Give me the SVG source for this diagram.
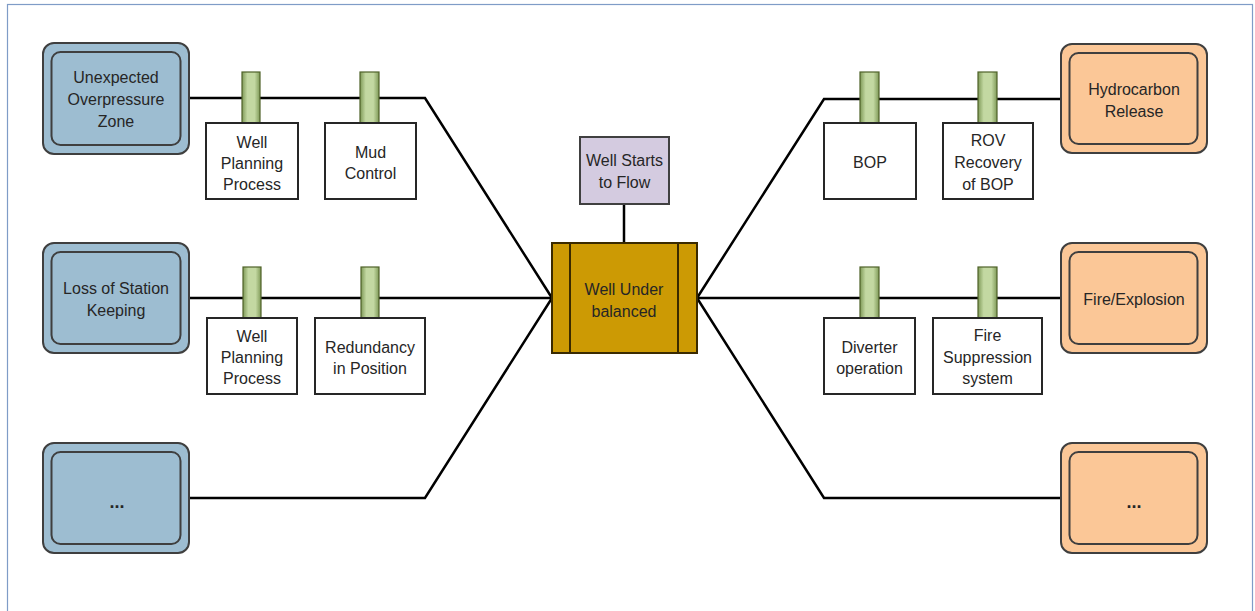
<svg xmlns="http://www.w3.org/2000/svg" width="1255" height="611" viewBox="0 0 1255 611">
  <defs>
    <linearGradient id="tabFill" x1="0" y1="0" x2="1" y2="0">
      <stop offset="0" stop-color="#7f9a58"/>
      <stop offset="0.3" stop-color="#c3d8a2"/>
      <stop offset="0.7" stop-color="#c3d8a2"/>
      <stop offset="1" stop-color="#7f9a58"/>
    </linearGradient>
  </defs>
  <style>
    text { font-family: "Liberation Sans", Arial, sans-serif; font-size: 16px; fill: #262626; text-anchor: middle; }
    .frame { fill: none; stroke: #7f9cc7; stroke-width: 1.2; }
    .wire { fill: none; stroke: #000; stroke-width: 2.5; stroke-linejoin: miter; }
    .outer { stroke: #3f3f3f; stroke-width: 2; }
    .inner { fill: none; stroke: #3f3f3f; stroke-width: 2; }
    .threat .outer { fill: #9dbdd1; }
    .conseq .outer { fill: #fbc797; }
    .barrier { fill: #fff; stroke: #262626; stroke-width: 2; }
    .tab { fill: url(#tabFill); stroke: #4f6228; stroke-width: 1.2; }
    .dots { font-weight: bold; font-size: 18px; }
  </style>

  <rect class="frame" x="7.5" y="4.5" width="1245" height="640"/>

  <!-- connectors -->
  <g id="connectors">
    <polyline class="wire" points="189,98 425,98 552,298"/>
    <polyline class="wire" points="189,298 552,298"/>
    <polyline class="wire" points="189,498 425,498 552,298"/>
    <polyline class="wire" points="1061,99 824,99 697,298"/>
    <polyline class="wire" points="1061,298 697,298"/>
    <polyline class="wire" points="1061,498 824,498 697,298"/>
    <line class="wire" x1="624" y1="204" x2="624" y2="243"/>
  </g>

  <!-- threats -->
  <g id="threat-overpressure" class="threat">
    <rect class="outer" x="43" y="43" width="146" height="111" rx="11"/>
    <rect class="inner" x="51.5" y="52" width="129" height="93" rx="9"/>
    <text x="116" y="82.5">Unexpected</text>
    <text x="116" y="104.5">Overpressure</text>
    <text x="116" y="126.5">Zone</text>
  </g>
  <g id="threat-station-keeping" class="threat">
    <rect class="outer" x="43" y="243" width="146" height="110" rx="11"/>
    <rect class="inner" x="51.5" y="252" width="129" height="92" rx="9"/>
    <text x="116" y="293.5">Loss of Station</text>
    <text x="116" y="315.5">Keeping</text>
  </g>
  <g id="threat-other" class="threat">
    <rect class="outer" x="43" y="443" width="146" height="110" rx="11"/>
    <rect class="inner" x="51.5" y="452" width="129" height="92" rx="9"/>
    <text class="dots" x="117" y="508">...</text>
  </g>

  <!-- consequences -->
  <g id="conseq-hydrocarbon" class="conseq">
    <rect class="outer" x="1061" y="44" width="146" height="109" rx="11"/>
    <rect class="inner" x="1069.5" y="53" width="128" height="91" rx="9"/>
    <text x="1134" y="94.5">Hydrocarbon</text>
    <text x="1134" y="116.5">Release</text>
  </g>
  <g id="conseq-fire" class="conseq">
    <rect class="outer" x="1061" y="243" width="146" height="110" rx="11"/>
    <rect class="inner" x="1069.5" y="252" width="128" height="92" rx="9"/>
    <text x="1134" y="304.5">Fire/Explosion</text>
  </g>
  <g id="conseq-other" class="conseq">
    <rect class="outer" x="1061" y="443" width="146" height="110" rx="11"/>
    <rect class="inner" x="1069.5" y="452" width="128" height="92" rx="9"/>
    <text class="dots" x="1134" y="508">...</text>
  </g>

  <!-- top event and hazard -->
  <g id="hazard">
    <rect x="580" y="137" width="89" height="67" fill="#d4cbe0" stroke="#404040" stroke-width="2"/>
    <text x="624.5" y="165.5">Well Starts</text>
    <text x="624.5" y="187.5">to Flow</text>
  </g>
  <g id="top-event">
    <rect x="552" y="243" width="145" height="110" fill="#cc9a04" stroke="#3a2a00" stroke-width="2"/>
    <line x1="570" y1="243" x2="570" y2="353" stroke="#3a2a00" stroke-width="2"/>
    <line x1="678" y1="243" x2="678" y2="353" stroke="#3a2a00" stroke-width="2"/>
    <text x="624" y="294.5">Well Under</text>
    <text x="624" y="316.5">balanced</text>
  </g>

  <!-- barriers, left top -->
  <g id="barrier-well-planning-1">
    <rect class="tab" x="242" y="72" width="18" height="51"/>
    <rect class="barrier" x="206" y="123" width="92" height="76"/>
    <text x="252" y="147.5">Well</text>
    <text x="252" y="168.5">Planning</text>
    <text x="252" y="189.5">Process</text>
  </g>
  <g id="barrier-mud-control">
    <rect class="tab" x="360" y="72" width="19" height="51"/>
    <rect class="barrier" x="325" y="123" width="91" height="76"/>
    <text x="370.5" y="157.5">Mud</text>
    <text x="370.5" y="178.5">Control</text>
  </g>

  <!-- barriers, left middle -->
  <g id="barrier-well-planning-2">
    <rect class="tab" x="243" y="267" width="18" height="51"/>
    <rect class="barrier" x="207" y="318" width="90" height="76"/>
    <text x="252" y="341.5">Well</text>
    <text x="252" y="362.5">Planning</text>
    <text x="252" y="383.5">Process</text>
  </g>
  <g id="barrier-redundancy">
    <rect class="tab" x="361" y="267" width="18" height="51"/>
    <rect class="barrier" x="315" y="318" width="110" height="76"/>
    <text x="370" y="352.5">Redundancy</text>
    <text x="370" y="373.5">in Position</text>
  </g>

  <!-- barriers, right top -->
  <g id="barrier-bop">
    <rect class="tab" x="860" y="72" width="19" height="51"/>
    <rect class="barrier" x="824" y="123" width="92" height="76"/>
    <text x="870" y="167.5">BOP</text>
  </g>
  <g id="barrier-rov">
    <rect class="tab" x="978" y="72" width="19" height="51"/>
    <rect class="barrier" x="943" y="123" width="90" height="76"/>
    <text x="988" y="145.5">ROV</text>
    <text x="988" y="167.5">Recovery</text>
    <text x="988" y="189.5">of BOP</text>
  </g>

  <!-- barriers, right middle -->
  <g id="barrier-diverter">
    <rect class="tab" x="860" y="267" width="19" height="51"/>
    <rect class="barrier" x="824" y="318" width="91" height="76"/>
    <text x="869.5" y="352.5">Diverter</text>
    <text x="869.5" y="373.5">operation</text>
  </g>
  <g id="barrier-fire-suppression">
    <rect class="tab" x="978" y="267" width="19" height="51"/>
    <rect class="barrier" x="933" y="318" width="109" height="76"/>
    <text x="987.5" y="340.5">Fire</text>
    <text x="987.5" y="362.5">Suppression</text>
    <text x="987.5" y="383.5">system</text>
  </g>
</svg>
